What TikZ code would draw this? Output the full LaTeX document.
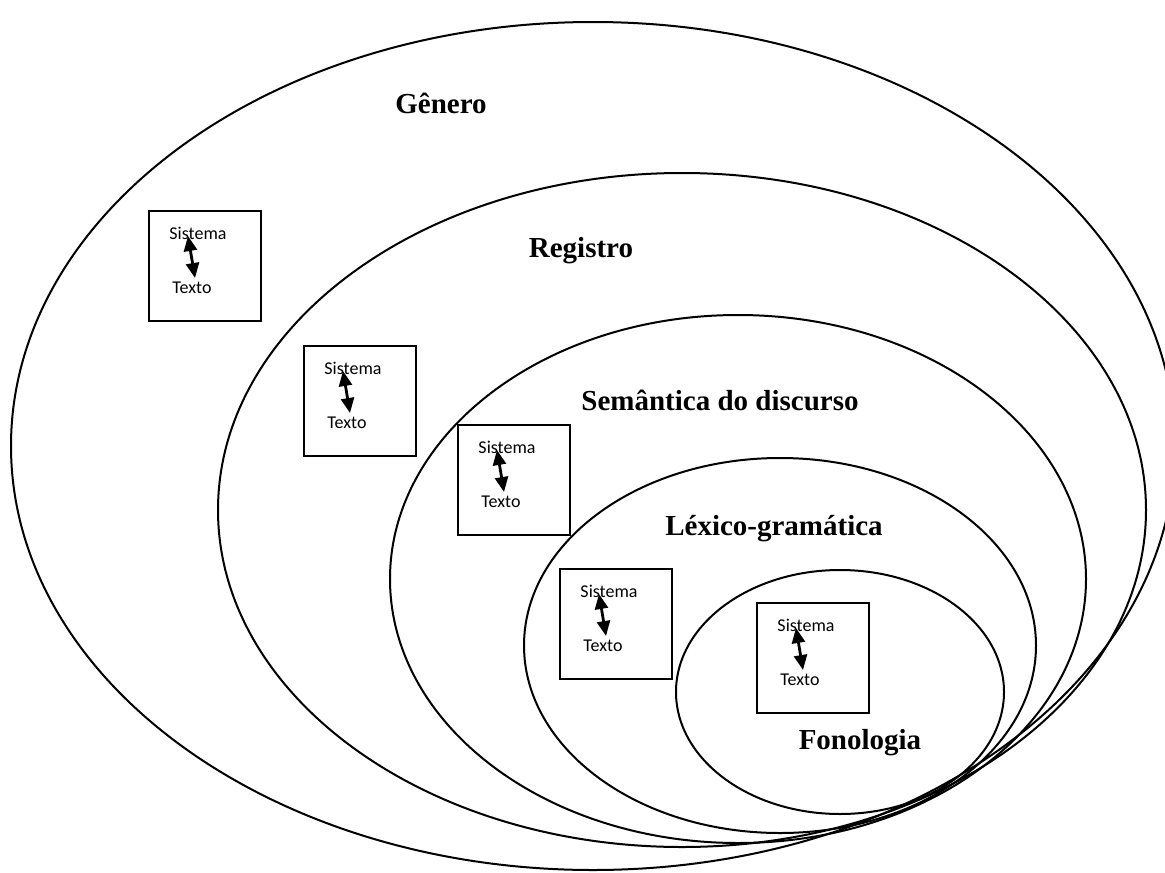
\documentclass[tikz,border=0pt]{standalone}
\usepackage{fontspec}
\setmainfont{Liberation Serif}
\newfontfamily\smallfont{Carlito}
\usetikzlibrary{arrows.meta,shapes.geometric}
\tikzset{
  ring/.style={draw,line width=2pt,ellipse,inner sep=0pt},
  lvl/.style={font=\fontsize{29}{30}\selectfont\bfseries,inner sep=0pt},
  sbox/.style={draw,line width=1.6pt,minimum width=112pt,minimum height=110pt,inner sep=0pt,anchor=north west},
  stxt/.style={font=\smallfont\fontsize{18}{20}\selectfont,inner sep=0pt},
  link/.style={line width=2.8pt,{Triangle[width=13pt,length=15pt]}-{Triangle[width=13pt,length=15pt]}}
}
\begin{document}
\begin{tikzpicture}[x=1pt,y=-1pt]
\useasboundingbox (0,0) rectangle (1165,873);
\begin{scope}
\clip (0,0) rectangle (1165,873);
\node[ring,minimum width=1164pt,minimum height=848pt] (genero) at (593,446) {};
\node[ring,minimum width=928pt,minimum height=674pt] (registro) at (682,510) {};
\node[ring,minimum width=696pt,minimum height=528pt] (semantica) at (738,579) {};
\node[ring,minimum width=512pt,minimum height=375pt] (lexico) at (780,645.5) {};
\node[ring,minimum width=328pt,minimum height=244pt] (fonologia) at (840,692) {};
\end{scope}
\node[lvl] (lg) at (441,103) {Gênero};
\node[lvl] (lr) at (581,251) {Registro};
\node[lvl] (ls) at (720,400) {Semântica do discurso};
\node[lvl] (ll) at (774,529) {Léxico-gramática};
\node[lvl] (lf) at (860,743) {Fonologia};
\foreach \n/\x/\y in {a/148/210, b/303/345, c/457/424, d/559/568, e/756/602}{
  \node[sbox] (box\n) at (\x,\y) {};
  \node[stxt] (sis\n) at ([shift={(50,23)}]box\n.north west) {Sistema};
  \node[stxt] (tex\n) at ([shift={(44,78)}]box\n.north west) {Texto};
  \coordinate (up\n) at ([shift={(40,26)}]box\n.north west);
  \coordinate (dn\n) at ([shift={(47,68)}]box\n.north west);
  \draw[link] (up\n) -- (dn\n);
}
\end{tikzpicture}
\end{document}
